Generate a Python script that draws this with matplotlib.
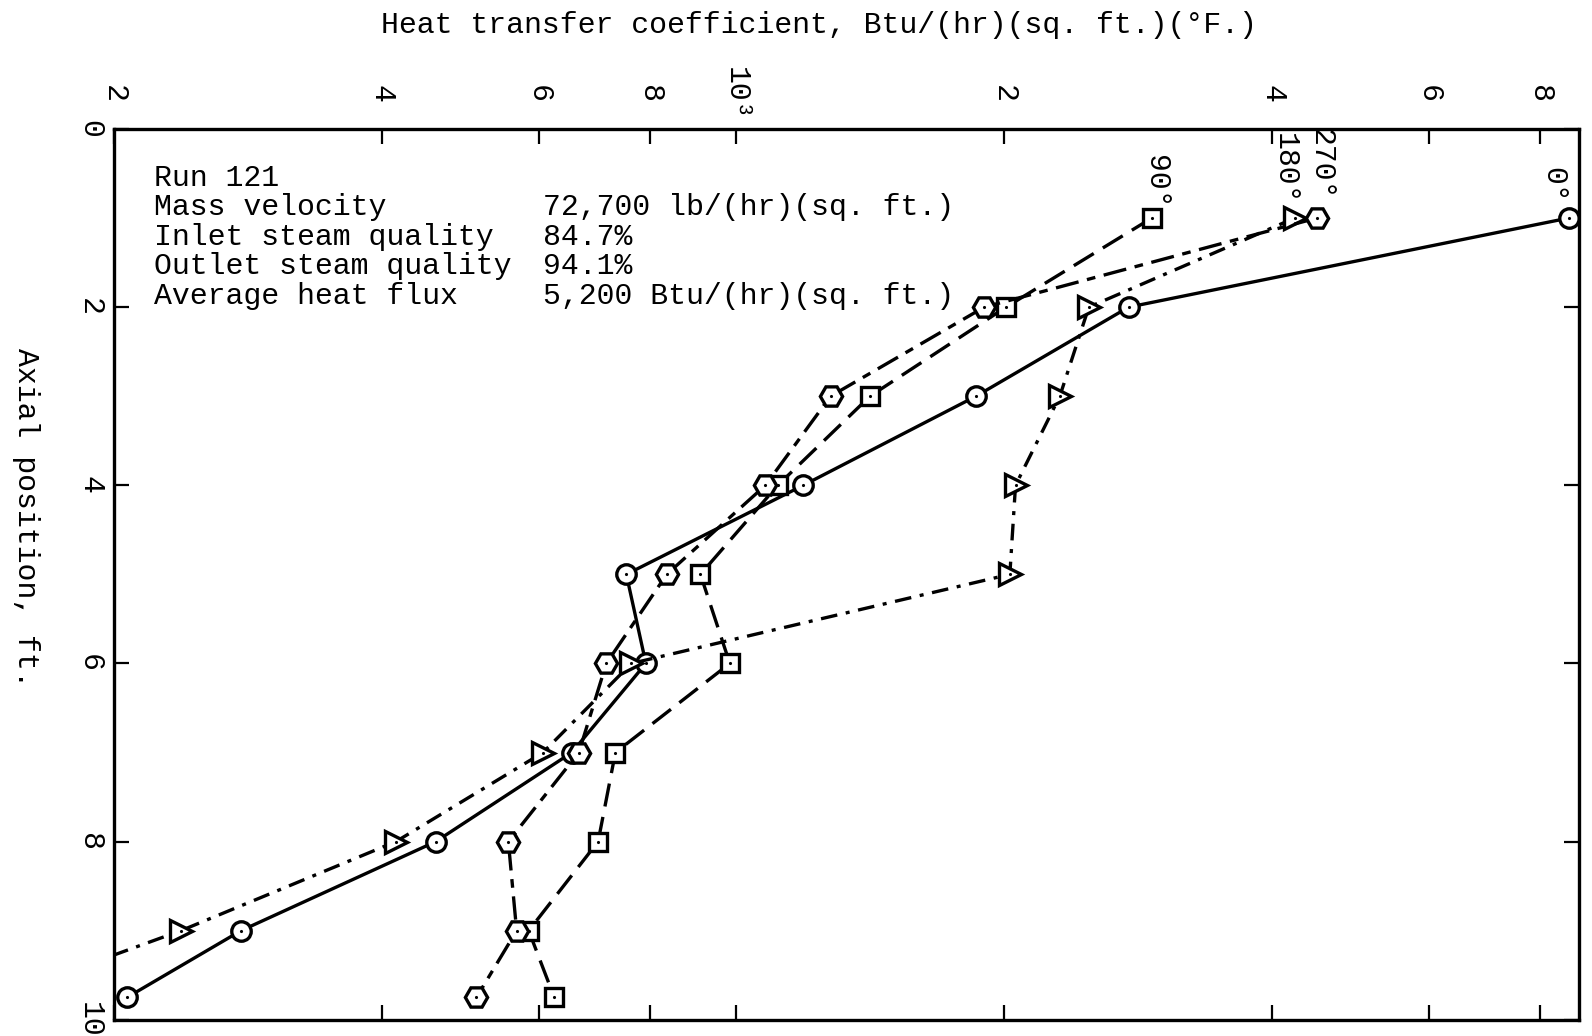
import matplotlib
matplotlib.use('Agg')
import matplotlib.pyplot as plt
from matplotlib.ticker import NullLocator

plt.rcParams['font.family'] = ['Liberation Mono', 'DejaVu Sans Mono']
plt.rcParams['font.size'] = 21.5

# thermocouple stations along the tube, ft.
position = [1, 2, 3, 4, 5, 6, 7, 8, 9, 9.75]

# heat transfer coefficient, Btu/(hr)(sq. ft.)(F) at each circumferential angle
h_0 = [8610, 2760, 1860, 1190, 753, 792, 654, 460, 278, 207]
h_90 = [2930, 2010, 1414, 1114, 912, 984, 732, 700, 585, 625]
h_180 = [4240, 2490, 2310, 2060, 2030, 763, 607, 415, 238, 148]
h_270 = [4490, 1900, 1277, 1079, 836, 715, 666, 555, 567, 511]

angle_labels = ['0°', '90°', '180°', '270°']

xtick_vals = [200, 400, 600, 800, 1000, 2000, 4000, 6000, 8000]
xtick_text = ['2', '4', '6', '8', '10³', '2', '4', '6', '8']
ytick_vals = [0, 2, 4, 6, 8, 10]

info_labels = ['Run 121', 'Mass velocity', 'Inlet steam quality',
               'Outlet steam quality', 'Average heat flux']
info_values = ['', '72,700 lb/(hr)(sq. ft.)', '84.7%', '94.1%',
               '5,200 Btu/(hr)(sq. ft.)']

fig = plt.figure(figsize=(15.92, 10.36), dpi=100)
ax = fig.add_axes([0.0714, 0.0157, 0.9203, 0.8598])

lw = 2.4
styles = [
    dict(marker='o', ms=14, linestyle='-'),
    dict(marker='s', ms=13, linestyle=(0, (7.0, 3.2))),
    dict(marker='>', ms=16, linestyle=(0, (5.0, 2.6, 1.2, 2.6))),
    dict(marker='H', ms=16, linestyle=(0, (7.0, 2.6, 2.6, 2.6))),
]
label_offsets = [(-11, 11), (3, 7), (-7, 10), (3, 13)]

for h, st, name, off in zip([h_0, h_90, h_180, h_270], styles, angle_labels, label_offsets):
    ax.plot(h, position, color='black', lw=lw, marker=st['marker'],
            linestyle=st['linestyle'], ms=st['ms'], mew=2.4, mfc='white', mec='black')
    ax.plot(h, position, linestyle='none', marker='.', ms=2.5, color='black')
    ax.annotate(name, xy=(h[0], position[0]), xytext=off, textcoords='offset points',
                rotation=-90, ha='center', va='bottom')

ax.set_xscale('log')
ax.set_xlim(200, 8840)
ax.set_ylim(10, 0)

ax.set_xticks(xtick_vals)
ax.xaxis.set_minor_locator(NullLocator())
ax.set_xticklabels(xtick_text, rotation=-90, ha='center', va='center')
ax.set_yticks(ytick_vals)
ax.set_yticklabels([str(v) for v in ytick_vals], rotation=-90, ha='center', va='center')

ax.tick_params(axis='both', which='major', direction='in', length=11, width=1.6,
               top=True, bottom=True, left=True, right=True,
               labeltop=True, labelbottom=False)
ax.tick_params(axis='x', pad=25)
ax.tick_params(axis='y', pad=17)

for sp in ax.spines.values():
    sp.set_linewidth(2.4)

ax.set_ylabel('Axial position, ft.', rotation=-90, ha='center', va='center')
ax.yaxis.set_label_coords(-0.060, 0.563)

fig.text(807 / 1568, 1 - 25 / 1020, 'Heat transfer coefficient, Btu/(hr)(sq. ft.)(°F.)',
         ha='center', va='center')

# run conditions block
for i, (lab, val) in enumerate(zip(info_labels, info_values)):
    y = 0.9453 - i * 0.0331
    ax.text(0.0277, y, lab, transform=ax.transAxes, ha='left', va='center')
    ax.text(0.2931, y, val, transform=ax.transAxes, ha='left', va='center')

fig.savefig('out.png', dpi=100, facecolor='white')
